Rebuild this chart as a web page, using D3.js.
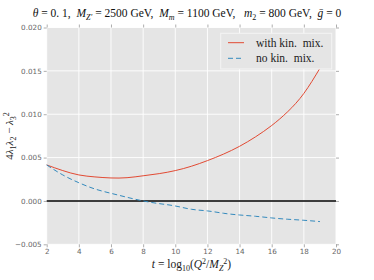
<!DOCTYPE html>
<html><head><meta charset="utf-8">
<script src="https://cdn.jsdelivr.net/npm/d3@7"></script>
<style>body{margin:0;background:#fff}svg{display:block}text{white-space:pre}</style>
</head><body>
<script>
const tValues = [2,3,4,5,6,7,8,9,10,11,12,13,14,15,16,17,18,19];
const withKinMix = [0.00415,0.0035,0.0030,0.00277,0.00265,0.00268,0.0029,0.00315,0.0035,0.0040,0.00465,0.0054,0.0063,0.0074,0.0087,0.0103,0.0124,0.0153];
const noKinMix = [0.00415,0.0030,0.0021,0.00138,0.00088,0.00042,0.0,-0.00031,-0.00058,-0.00096,-0.00115,-0.00142,-0.00162,-0.00177,-0.00196,-0.00211,-0.00223,-0.00238];
const xTicks = [2,4,6,8,10,12,14,16,18,20];
const yTicks = [-0.005,0.000,0.005,0.010,0.015,0.020];
const legendLabels = ["with kin.  mix.","no kin.  mix."];

const W=374,H=280;
const L=46.7,R=336,T=27.5,B=244.3;
const svg=d3.select("body").append("svg").attr("width",W).attr("height",H);
const x=d3.scaleLinear().domain([2,20]).range([L,R]);
const y=d3.scaleLinear().domain([-0.005,0.020]).range([B,T]);

svg.append("rect").attr("x",L).attr("y",T).attr("width",R-L).attr("height",B-T).attr("fill","#e5e5e5");
// grid
svg.append("g").selectAll("line").data(xTicks).join("line")
 .attr("x1",d=>x(d)).attr("x2",d=>x(d)).attr("y1",T).attr("y2",B).attr("stroke","#fff").attr("stroke-width",0.9);
svg.append("g").selectAll("line").data(yTicks).join("line")
 .attr("y1",d=>y(d)).attr("y2",d=>y(d)).attr("x1",L).attr("x2",R).attr("stroke","#fff").attr("stroke-width",0.9);

const tickCol="#999";
// axes
const xAx=svg.append("g").attr("transform",`translate(0,${B})`)
 .call(d3.axisBottom(x).tickValues(xTicks).tickSize(3).tickPadding(2).tickFormat(d3.format("d")));
const yAx=svg.append("g").attr("transform",`translate(${L},0)`)
 .call(d3.axisLeft(y).tickValues(yTicks).tickSize(3).tickPadding(2).tickFormat(d=>d3.format(".3f")(d).replace("-","\u2212")));
const xTop=svg.append("g").attr("transform",`translate(0,${T})`)
 .call(d3.axisTop(x).tickValues(xTicks).tickSize(3).tickFormat(""));
const yRight=svg.append("g").attr("transform",`translate(${R},0)`)
 .call(d3.axisRight(y).tickValues(yTicks).tickSize(3).tickFormat(""));
[xAx,yAx,xTop,yRight].forEach(g=>{
 g.select(".domain").remove();
 g.selectAll("line").attr("stroke",tickCol).attr("stroke-width",0.8);
 g.selectAll("text").attr("fill","#666").attr("font-family","DejaVu Sans").attr("font-size",7.2);
});

// zero line
svg.append("line").attr("x1",L).attr("x2",R).attr("y1",y(0)).attr("y2",y(0)).attr("stroke","#000").attr("stroke-width",1.4);

const line=d3.line().x((d,i)=>x(tValues[i])).y(d=>y(d)).curve(d3.curveNatural);
svg.append("path").datum(withKinMix).attr("d",line).attr("fill","none").attr("stroke","#E24A33").attr("stroke-width",1);
svg.append("path").datum(noKinMix).attr("d",line).attr("fill","none").attr("stroke","#348ABD").attr("stroke-width",1).attr("stroke-dasharray","5,3");

// legend
const lg=svg.append("g");
lg.append("rect").attr("x",220.7).attr("y",33.3).attr("width",111).attr("height",35.7).attr("fill","#e5e5e5").attr("stroke","#f4f4f4").attr("stroke-width",1);
const cols=["#E24A33","#348ABD"],dashes=[null,"5,3"];
legendLabels.forEach((lab,i)=>{
 const yy=42.7+i*15.6;
 lg.append("line").attr("x1",228).attr("x2",244).attr("y1",yy).attr("y2",yy).attr("stroke",cols[i]).attr("stroke-width",1).attr("stroke-dasharray",dashes[i]);
 lg.append("text").attr("x",256).attr("y",yy+3.8).attr("font-family","Liberation Serif").attr("font-size",11.5).attr("fill","#222").text(lab);
});

// title
const ttl=svg.append("text").attr("x",187).attr("y",17).attr("text-anchor","middle")
 .attr("font-family","Liberation Serif").attr("font-size",11.5).attr("fill","#111");
function add(el,txt,opt={}){const s=el.append("tspan").text(txt);if(opt.i)s.attr("font-style","italic");if(opt.sub){s.attr("font-size",8).attr("dy",opt.sub);}return s;}
add(ttl,"θ",{i:1});add(ttl," = 0. 1,  ");add(ttl,"M",{i:1});add(ttl,"Z′",{i:1,sub:2.5});
ttl.append("tspan").attr("dy",-2.5).text(" = 2500 GeV,  ");
add(ttl,"M",{i:1});add(ttl,"m",{i:1,sub:2.5});
ttl.append("tspan").attr("dy",-2.5).text(" = 1100 GeV,   ");
add(ttl,"m",{i:1});add(ttl,"2",{sub:2.5});
ttl.append("tspan").attr("dy",-2.5).text(" = 800 GeV,  ");
add(ttl,"ḡ",{i:1});add(ttl," = 0");

// x label
const xl=svg.append("text").attr("x",191.5).attr("y",268).attr("text-anchor","middle")
 .attr("font-family","Liberation Serif").attr("font-size",11.5).attr("fill","#222");
add(xl,"t",{i:1});add(xl," = log");add(xl,"10",{sub:2.5});
xl.append("tspan").attr("dy",-2.5).text("(");
add(xl,"Q",{i:1});xl.append("tspan").attr("font-size",8).attr("dy",-4).text("2");
xl.append("tspan").attr("dy",4).text("/");add(xl,"M",{i:1});
xl.append("tspan").attr("font-size",8).attr("font-style","italic").attr("dy",2.5).text("Z");
xl.append("tspan").attr("font-size",8).attr("dy",-6.5).text("2");
xl.append("tspan").attr("dy",4).text(")");

// y label
const yl=svg.append("text").attr("transform",`translate(13,${(T+B)/2}) rotate(-90)`).attr("text-anchor","middle")
 .attr("font-family","Liberation Serif").attr("font-size",11).attr("fill","#222");
yl.append("tspan").text("4");add(yl,"λ",{i:1});add(yl,"1",{sub:2.5});
yl.append("tspan").attr("dy",-2.5).attr("font-style","italic").text("λ");add(yl,"2",{sub:2.5});
yl.append("tspan").attr("dy",-2.5).text(" − ");add(yl,"λ",{i:1});
yl.append("tspan").attr("font-size",8).attr("dy",2.5).text("3");
yl.append("tspan").attr("font-size",8).attr("dy",-6.5).text("2");
</script>
</body></html>
